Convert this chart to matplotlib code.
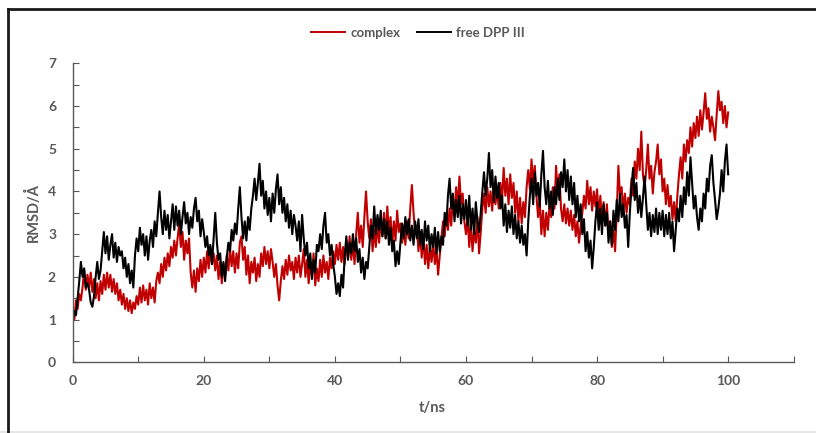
import numpy as np
import matplotlib
matplotlib.use("Agg")
import matplotlib.pyplot as plt
from matplotlib.lines import Line2D
from matplotlib.patches import Rectangle
from matplotlib.ticker import MultipleLocator

# ---- data (RMSD in Angstrom, sampled every 0.25 ns) ----
complex_rmsd = [
    1.3, 1.0, 1.45, 1.25, 1.6, 1.45, 1.75, 2.15, 1.7, 2.05,
    1.75, 2.1, 1.65, 1.95, 1.5, 1.85, 1.45, 1.9, 1.6, 2.05,
    1.7, 2.1, 1.75, 2.05, 1.65, 1.95, 1.6, 1.85, 1.45, 1.7,
    1.35, 1.6, 1.25, 1.5, 1.2, 1.45, 1.15, 1.4, 1.25, 1.55,
    1.35, 1.75, 1.4, 1.8, 1.45, 1.7, 1.35, 1.85, 1.5, 1.75,
    1.4, 1.9, 2.1, 1.85, 2.3, 2.0, 2.45, 2.15, 2.55, 2.25,
    2.7, 2.45, 2.85, 2.5, 2.9, 3.25, 2.7, 3.05, 2.4, 2.85,
    2.55, 2.9, 2.1, 1.75, 2.15, 1.65, 2.2, 1.9, 2.4, 2.0,
    2.45, 2.1, 2.6, 2.2, 2.7, 2.3, 2.55, 2.15, 2.5, 1.95,
    2.35, 1.85, 2.3, 2.0, 2.5, 2.15, 2.65, 2.25, 2.6, 2.1,
    2.55, 2.2, 2.8, 2.95, 2.4, 2.7, 2.05, 2.5, 1.85, 2.35,
    2.1, 2.45, 1.9, 2.3, 2.0, 2.55, 2.25, 2.7, 2.3, 2.6,
    2.2, 2.65, 2.35, 2.0, 2.3, 1.8, 1.45, 1.9, 2.25, 1.95,
    2.4, 2.05, 2.5, 2.15, 2.35, 1.95, 2.45, 2.1, 2.5, 2.0,
    2.3, 2.65, 2.0, 2.4, 1.85, 2.3, 2.05, 2.55, 1.8, 2.2,
    1.9, 2.4, 2.0, 2.5, 2.1, 2.35, 1.95, 2.45, 2.2, 2.6,
    2.3, 2.75, 2.4, 2.8, 2.35, 2.7, 2.3, 2.85, 2.45, 2.95,
    2.4, 2.8, 2.3, 3.0, 3.5, 2.8, 3.2, 2.7, 3.4, 4.0,
    3.3, 2.9, 3.35, 2.6, 3.1, 2.7, 3.25, 2.8, 3.35, 2.95,
    3.5, 2.9, 3.65, 3.0, 3.4, 2.75, 3.3, 2.85, 3.55, 3.05,
    3.25, 2.8, 3.2, 2.75, 3.3, 2.9, 3.6, 4.15, 3.5, 3.0,
    3.2, 2.6, 3.05, 2.45, 2.95, 2.3, 2.75, 2.2, 2.7, 2.35,
    2.8, 2.3, 2.65, 2.05, 2.5, 2.9, 3.3, 2.95, 3.5, 3.1,
    3.6, 3.2, 3.85, 3.5, 4.1, 3.6, 4.35, 3.7, 3.95, 3.3,
    3.0, 3.4, 2.7, 3.25, 2.6, 3.1, 2.8, 3.4, 2.55, 3.05,
    3.6, 3.95, 3.5, 4.1, 3.65, 4.0, 3.55, 4.15, 3.7, 4.05,
    3.6, 4.2, 3.75, 4.55, 3.9, 4.3, 3.7, 4.4, 3.85, 4.2,
    3.5, 4.0, 3.3, 3.85, 3.25, 3.75, 3.4, 4.1, 4.5, 4.05,
    4.75, 4.2, 4.6, 3.9, 3.4, 3.8, 3.0, 3.55, 2.95, 3.5,
    3.1, 3.7, 3.4, 4.1, 3.6, 4.6, 3.9, 4.4, 3.6, 3.3,
    3.7, 3.25, 3.6, 3.2, 3.55, 3.1, 3.45, 2.95, 3.3, 2.8,
    3.2, 3.5, 3.9, 3.6, 4.25, 3.7, 4.1, 3.55, 4.0, 3.65,
    4.05, 3.4, 3.9, 3.3, 3.75, 3.2, 3.7, 3.05, 3.3, 2.7,
    3.1, 2.6, 3.5, 4.6, 3.9, 4.1, 3.55, 3.95, 3.5, 3.85,
    3.7, 4.3, 3.9, 4.7, 4.3, 5.0, 4.5, 5.4, 4.4, 4.1,
    4.5, 5.1, 4.3, 4.6, 3.95, 4.45, 4.7, 5.1, 4.4, 4.75,
    4.0, 4.3, 3.7, 4.15, 3.65, 3.9, 3.35, 3.75, 3.3, 3.9,
    4.4, 4.8, 4.3, 5.1, 4.7, 5.2, 4.9, 5.5, 5.05, 5.6,
    5.25, 5.75, 5.3, 5.9, 5.45, 5.85, 6.3, 5.7, 5.95, 5.4,
    5.75, 5.5, 5.2, 5.8, 6.35, 5.9, 6.1, 5.6, 6.0, 5.5,
    5.85,
]

free_rmsd = [
    0.95, 1.2, 1.1, 1.5, 1.9, 2.35, 2.0, 2.2, 1.75, 1.85,
    1.7, 1.4, 1.3, 1.55, 2.0, 2.35, 1.95, 2.15, 2.6, 3.05,
    2.55, 2.95, 2.4, 2.75, 3.0, 2.45, 2.8, 2.35, 2.7, 2.5,
    2.6, 2.2, 2.45, 2.0, 2.3, 1.85, 2.15, 1.75, 2.5, 2.9,
    2.6, 3.15, 2.75, 3.0, 2.5, 2.95, 2.4, 2.85, 3.1, 2.7,
    3.3, 2.95, 3.5, 4.0, 3.4, 3.0, 3.55, 3.1, 3.45, 2.9,
    3.3, 3.7, 3.1, 3.65, 3.2, 3.55, 3.0, 3.4, 3.75, 3.25,
    3.5, 3.0, 3.4, 3.15, 3.6, 3.85, 3.3, 3.55, 2.95, 3.35,
    3.05, 2.7, 2.95, 2.5, 2.75, 2.3, 2.9, 3.5, 2.8, 2.4,
    2.55, 2.0, 2.35, 1.9, 2.45, 2.8, 2.6, 3.1, 2.85, 3.25,
    3.0, 3.6, 4.1, 3.4, 2.9, 3.3, 2.85, 3.4, 3.1, 3.6,
    3.9, 4.3, 3.8, 4.2, 4.65, 3.9, 4.25, 3.6, 4.0, 3.45,
    3.85, 3.3, 3.95, 3.5, 4.05, 4.4, 3.7, 4.1, 3.5, 3.85,
    3.3, 3.7, 3.15, 3.55, 3.0, 3.45, 3.2, 2.85, 3.3, 2.6,
    3.45, 2.9, 2.5, 2.8, 2.2, 2.55, 1.95, 2.4, 2.1, 2.75,
    2.6, 3.0, 2.65, 3.2, 3.5, 2.8, 3.0, 2.5, 2.75, 2.3,
    2.0, 1.6, 1.85, 1.55, 2.05, 1.75, 2.5, 2.95, 2.4, 2.8,
    2.55, 3.0, 2.6, 2.9, 2.35, 2.65, 2.1, 2.45, 1.95, 2.35,
    2.2, 2.7, 3.2, 2.9, 3.65, 3.0, 3.45, 3.1, 3.55, 2.95,
    3.35, 2.9, 3.3, 2.75, 3.15, 2.6, 2.85, 2.25, 2.6, 2.3,
    2.8, 3.25, 2.9, 3.4, 3.0, 3.35, 2.85, 3.2, 2.75, 3.3,
    2.9, 3.35, 2.75, 3.1, 2.65, 3.3, 2.85, 3.2, 2.6, 3.0,
    2.7, 3.15, 2.55, 3.05, 2.6, 2.95, 2.75, 3.5, 3.2, 3.9,
    4.3, 3.6, 3.95, 3.3, 3.8, 3.4, 3.9, 3.25, 3.7, 3.35,
    3.8, 3.2, 3.9, 3.1, 3.6, 3.0, 3.75, 3.3, 3.05, 3.5,
    4.0, 4.45, 3.9, 4.3, 4.9, 4.1, 4.5, 3.75, 4.35, 3.85,
    4.2, 3.6, 3.9, 3.2, 3.7, 3.05, 3.55, 3.15, 3.65, 3.0,
    3.45, 2.9, 3.3, 2.8, 3.2, 2.75, 3.0, 2.5, 3.3, 3.9,
    4.3, 3.7, 4.45, 3.9, 4.2, 3.65, 4.4, 4.95, 4.1, 3.7,
    4.25, 3.6, 4.0, 3.45, 4.1, 3.7, 4.3, 3.8, 4.45, 4.1,
    4.75, 4.0, 4.5, 3.8, 4.35, 3.7, 4.2, 3.4, 3.9, 3.3,
    3.7, 3.0, 3.35, 2.6, 3.05, 2.45, 2.85, 2.2, 2.7, 3.3,
    3.75, 3.1, 3.6, 3.0, 3.7, 3.2, 3.5, 2.8, 3.3, 2.75,
    3.55, 3.1, 3.8, 3.3, 3.95, 3.4, 3.7, 3.15, 3.45, 2.7,
    3.5, 4.1, 4.55, 3.8, 4.2, 3.5, 3.9, 3.4, 3.85, 4.35,
    3.7, 3.1, 3.5, 2.95, 3.45, 3.05, 3.6, 3.0, 3.5, 3.1,
    3.55, 2.95, 3.45, 3.0, 3.5, 2.9, 3.3, 2.6, 3.1, 3.6,
    3.3, 3.9, 3.4, 4.1, 3.7, 4.45, 3.9, 4.8, 4.2, 3.6,
    3.9, 3.4, 3.1, 3.6, 3.3, 3.95, 3.6, 4.3, 4.0, 4.6,
    4.85, 4.2, 3.8, 3.35, 3.6, 3.95, 4.5, 4.0, 4.7, 5.1,
    4.4,
]

series_labels = ["complex", "free DPP III"]
x_tick_labels = ["0", "20", "40", "60", "80", "100"]
y_tick_labels = ["0", "1", "2", "3", "4", "5", "6", "7"]

time_ns = np.arange(len(complex_rmsd)) * 0.25

# ---- styling ----
GREY = "#595959"
plt.rcParams['font.family'] = ['Lato', 'DejaVu Sans']

W, H = 816, 433
fig = plt.figure(figsize=(W / 100, H / 100), dpi=100)
fig.patch.set_facecolor("white")

ax = fig.add_axes([72.7 / W, 1 - 362.3 / H, (793.7 - 72.7) / W, (362.3 - 63.3) / H])

ax.plot(time_ns, complex_rmsd, color="#C00000", lw=1.5, label=series_labels[0])
ax.plot(time_ns, free_rmsd, color="black", lw=1.5, label=series_labels[1])

ax.set_xlim(0, 110)
ax.set_ylim(0, 7)
ax.set_xticks([int(s) for s in x_tick_labels])
ax.set_xticklabels(x_tick_labels)
ax.set_yticks([int(s) for s in y_tick_labels])
ax.set_yticklabels(y_tick_labels)
ax.xaxis.set_minor_locator(MultipleLocator(10))
ax.yaxis.set_minor_locator(MultipleLocator(0.5))

for s in ["top", "right"]:
    ax.spines[s].set_visible(False)
for s in ["left", "bottom"]:
    ax.spines[s].set_color(GREY)
    ax.spines[s].set_linewidth(1.0)

ax.tick_params(axis="both", which="both", direction="in", length=4, width=0.8,
               color=GREY, labelcolor=GREY)
ax.tick_params(axis="x", which="major", pad=9, labelsize=10)
ax.tick_params(axis="y", which="major", pad=12, labelsize=10)
for lab in ax.get_xticklabels() + ax.get_yticklabels():
    lab.set_fontweight("bold")

fig.text(33 / W, 1 - 213 / H, "RMSD/Å", rotation=90, ha="center", va="center",
         color=GREY, fontsize=10.5, fontweight="bold")
fig.text(432 / W, 1 - 408 / H, "t/ns", ha="center", va="center",
         color=GREY, fontsize=10.5, fontweight="bold")

leg = fig.legend(loc="center", bbox_to_anchor=(418 / W, 1 - 33 / H), ncol=2,
                 frameon=False, fontsize=9.5, handlelength=2.6, columnspacing=1.2,
                 handletextpad=0.4)
for txt in leg.get_texts():
    txt.set_color(GREY)
    txt.set_fontweight("bold")
for h in leg.get_lines():
    h.set_linewidth(1.4)

# outer frame (clipped at right and bottom as in the reference)
fig.add_artist(Line2D([8 / W, 8 / W], [0.0, 1 - 8.5 / H], transform=fig.transFigure,
                      color="#1a1a1a", lw=2.0))
fig.add_artist(Line2D([8 / W, 1.0], [1 - 8.5 / H, 1 - 8.5 / H], transform=fig.transFigure,
                      color="#1a1a1a", lw=2.0))
fig.add_artist(Rectangle((0, 0), 1, 2.5 / H, transform=fig.transFigure,
                         facecolor="#e6e6e6", edgecolor="none"))

fig.savefig("out.png", dpi=100)
